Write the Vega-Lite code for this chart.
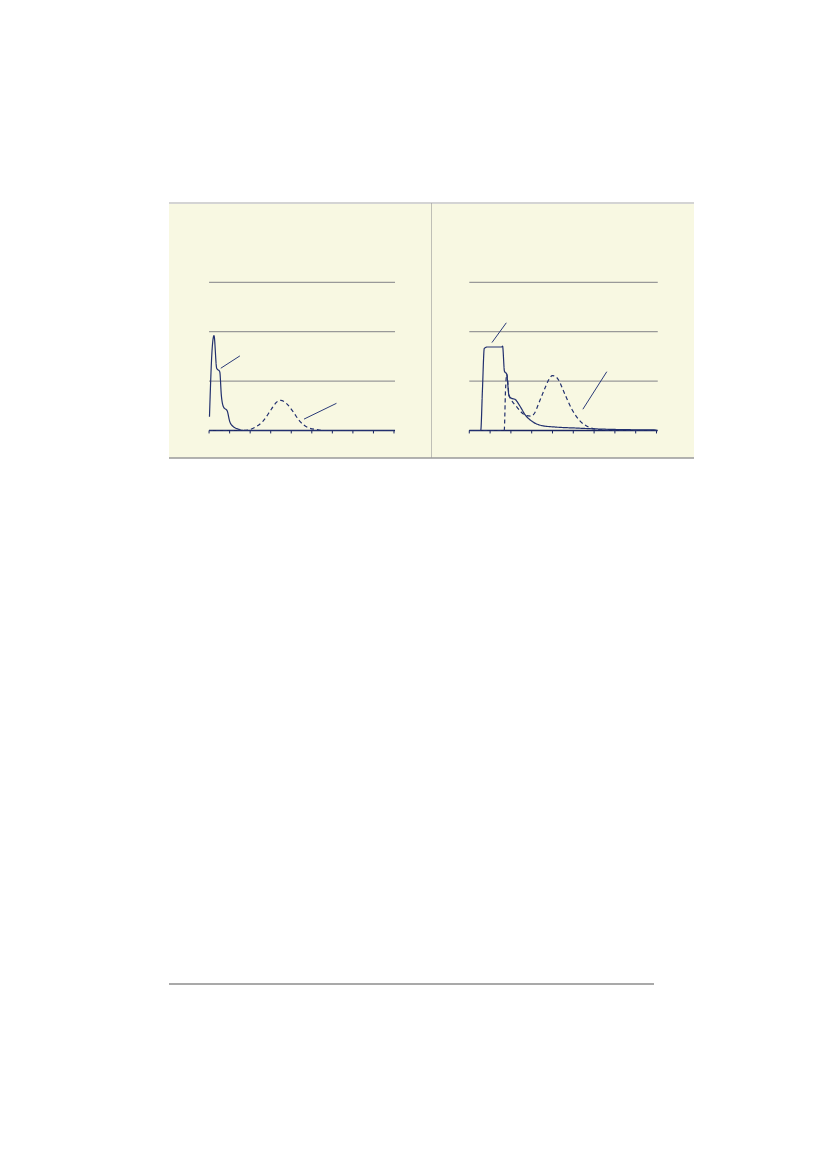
{
  "$schema": "https://vega.github.io/schema/vega-lite/v6.json",
  "background": "#ffffff",
  "padding": {"left": 168, "top": 202, "right": 0, "bottom": 0},
  "bounds": "flush",
  "datasets": {
    "curves": [
      {"panel": "A", "series": "solid", "u": 0.02, "v": 0.28},
      {"panel": "A", "series": "solid", "u": 0.15, "v": 1.65},
      {"panel": "A", "series": "solid", "u": 0.24, "v": 1.92},
      {"panel": "A", "series": "solid", "u": 0.37, "v": 1.26},
      {"panel": "A", "series": "solid", "u": 0.52, "v": 1.19},
      {"panel": "A", "series": "solid", "u": 0.6, "v": 0.7},
      {"panel": "A", "series": "solid", "u": 0.71, "v": 0.47},
      {"panel": "A", "series": "solid", "u": 0.88, "v": 0.4},
      {"panel": "A", "series": "solid", "u": 1.0, "v": 0.19},
      {"panel": "A", "series": "solid", "u": 1.17, "v": 0.08},
      {"panel": "A", "series": "solid", "u": 1.41, "v": 0.03},
      {"panel": "A", "series": "solid", "u": 1.65, "v": 0.0},
      {"panel": "A", "series": "solid", "u": 9.0, "v": 0.0},
      {"panel": "A", "series": "dashed", "u": 0.0, "v": 0.0},
      {"panel": "A", "series": "dashed", "u": 1.6, "v": 0.0},
      {"panel": "A", "series": "dashed", "u": 1.9, "v": 0.01},
      {"panel": "A", "series": "dashed", "u": 2.22, "v": 0.06},
      {"panel": "A", "series": "dashed", "u": 2.63, "v": 0.19},
      {"panel": "A", "series": "dashed", "u": 3.03, "v": 0.43},
      {"panel": "A", "series": "dashed", "u": 3.28, "v": 0.57},
      {"panel": "A", "series": "dashed", "u": 3.49, "v": 0.61},
      {"panel": "A", "series": "dashed", "u": 3.76, "v": 0.55},
      {"panel": "A", "series": "dashed", "u": 4.09, "v": 0.38},
      {"panel": "A", "series": "dashed", "u": 4.41, "v": 0.19},
      {"panel": "A", "series": "dashed", "u": 4.81, "v": 0.06},
      {"panel": "A", "series": "dashed", "u": 5.22, "v": 0.02},
      {"panel": "A", "series": "dashed", "u": 5.6, "v": 0.0},
      {"panel": "A", "series": "dashed", "u": 9.0, "v": 0.0},
      {"panel": "B", "series": "solid", "u": 0.0, "v": 0.0},
      {"panel": "B", "series": "solid", "u": 0.55, "v": 0.0},
      {"panel": "B", "series": "solid", "u": 0.63, "v": 0.8},
      {"panel": "B", "series": "solid", "u": 0.72, "v": 1.66},
      {"panel": "B", "series": "solid", "u": 0.85, "v": 1.69},
      {"panel": "B", "series": "solid", "u": 1.56, "v": 1.69},
      {"panel": "B", "series": "solid", "u": 1.6, "v": 1.71},
      {"panel": "B", "series": "solid", "u": 1.69, "v": 1.2},
      {"panel": "B", "series": "solid", "u": 1.8, "v": 1.14},
      {"panel": "B", "series": "solid", "u": 1.91, "v": 0.7},
      {"panel": "B", "series": "solid", "u": 2.04, "v": 0.65},
      {"panel": "B", "series": "solid", "u": 2.2, "v": 0.63},
      {"panel": "B", "series": "solid", "u": 2.44, "v": 0.49},
      {"panel": "B", "series": "solid", "u": 2.68, "v": 0.32},
      {"panel": "B", "series": "solid", "u": 3.0, "v": 0.19},
      {"panel": "B", "series": "solid", "u": 3.48, "v": 0.1},
      {"panel": "B", "series": "solid", "u": 4.12, "v": 0.07},
      {"panel": "B", "series": "solid", "u": 5.09, "v": 0.05},
      {"panel": "B", "series": "solid", "u": 6.2, "v": 0.03},
      {"panel": "B", "series": "solid", "u": 9.0, "v": 0.01},
      {"panel": "B", "series": "dashed", "u": 0.0, "v": 0.0},
      {"panel": "B", "series": "dashed", "u": 1.68, "v": 0.0},
      {"panel": "B", "series": "dashed", "u": 1.74, "v": 0.8},
      {"panel": "B", "series": "dashed", "u": 1.8, "v": 1.14},
      {"panel": "B", "series": "dashed", "u": 1.91, "v": 0.72},
      {"panel": "B", "series": "dashed", "u": 2.05, "v": 0.6},
      {"panel": "B", "series": "dashed", "u": 2.3, "v": 0.47},
      {"panel": "B", "series": "dashed", "u": 2.5, "v": 0.37},
      {"panel": "B", "series": "dashed", "u": 2.75, "v": 0.3},
      {"panel": "B", "series": "dashed", "u": 2.95, "v": 0.29},
      {"panel": "B", "series": "dashed", "u": 3.15, "v": 0.36},
      {"panel": "B", "series": "dashed", "u": 3.32, "v": 0.53},
      {"panel": "B", "series": "dashed", "u": 3.64, "v": 0.86},
      {"panel": "B", "series": "dashed", "u": 3.85, "v": 1.05},
      {"panel": "B", "series": "dashed", "u": 3.99, "v": 1.11},
      {"panel": "B", "series": "dashed", "u": 4.12, "v": 1.1},
      {"panel": "B", "series": "dashed", "u": 4.28, "v": 1.03},
      {"panel": "B", "series": "dashed", "u": 4.6, "v": 0.73},
      {"panel": "B", "series": "dashed", "u": 4.93, "v": 0.43},
      {"panel": "B", "series": "dashed", "u": 5.33, "v": 0.19},
      {"panel": "B", "series": "dashed", "u": 5.73, "v": 0.07},
      {"panel": "B", "series": "dashed", "u": 6.2, "v": 0.02},
      {"panel": "B", "series": "dashed", "u": 7.0, "v": 0.0},
      {"panel": "B", "series": "dashed", "u": 9.0, "v": 0.0}
    ],
    "pointers": [
      {"panel": "A", "u": 0.57, "v": 1.26, "u2": 1.5, "v2": 1.51},
      {"panel": "A", "u": 4.62, "v": 0.23, "u2": 6.2, "v2": 0.55},
      {"panel": "B", "u": 1.09, "v": 1.78, "u2": 1.78, "v2": 2.18},
      {"panel": "B", "u": 5.46, "v": 0.43, "u2": 6.61, "v2": 1.19}
    ],
    "grid": [{"g": 1}, {"g": 2}, {"g": 3}],
    "ticks": [
      {"t": 0}, {"t": 1}, {"t": 2}, {"t": 3}, {"t": 4},
      {"t": 5}, {"t": 6}, {"t": 7}, {"t": 8}, {"t": 9}
    ]
  },
  "spacing": 781,
  "vconcat": [
    {
      "spacing": 0,
      "bounds": "flush",
      "hconcat": [
        {
          "width": 263,
          "height": 255,
          "view": {"fill": "#f8f8e2", "stroke": null},
          "layer": [
            {
              "data": {"name": "grid"},
              "mark": {"type": "rule", "color": "#999999", "strokeWidth": 1.2},
              "encoding": {
                "x": {"datum": 0, "type": "quantitative", "scale": {"domain": [-1.95, 10.85], "nice": false, "zero": false}, "axis": null},
                "x2": {"datum": 9.05},
                "y": {"field": "g", "type": "quantitative", "scale": {"domain": [-0.557, 4.605], "nice": false, "zero": false}, "axis": null}
              }
            },
            {
              "data": {"name": "ticks"},
              "mark": {"type": "rule", "color": "#1a2560", "strokeWidth": 1},
              "encoding": {
                "x": {"field": "t", "type": "quantitative"},
                "y": {"datum": 0, "type": "quantitative"},
                "y2": {"datum": -0.06}
              }
            },
            {
              "data": {"values": [{"a": 0, "b": 9.05, "y": 0}]},
              "mark": {"type": "rule", "color": "#1a2560", "strokeWidth": 1.3},
              "encoding": {
                "x": {"field": "a", "type": "quantitative"},
                "x2": {"field": "b"},
                "y": {"field": "y", "type": "quantitative"}
              }
            },
            {
              "data": {"name": "curves"},
              "transform": [{"filter": "datum.panel === 'A'"}],
              "mark": {"type": "line", "color": "#22306e", "strokeWidth": 1.2, "interpolate": "monotone"},
              "encoding": {
                "x": {"field": "u", "type": "quantitative"},
                "y": {"field": "v", "type": "quantitative"},
                "detail": {"field": "series"},
                "strokeDash": {
                  "field": "series", "type": "nominal", "legend": null,
                  "scale": {"domain": ["solid", "dashed"], "range": [[1, 0], [4, 3]]}
                }
              }
            },
            {
              "data": {"name": "pointers"},
              "transform": [{"filter": "datum.panel === 'A'"}],
              "mark": {"type": "rule", "color": "#2a3a78", "strokeWidth": 1},
              "encoding": {
                "x": {"field": "u", "type": "quantitative"},
                "x2": {"field": "u2"},
                "y": {"field": "v", "type": "quantitative"},
                "y2": {"field": "v2"}
              }
            },
            {
              "data": {"values": [{"a": -1.95, "b": 10.85, "top": 4.605, "bot": -0.557}]},
              "layer": [
                {
                  "mark": {"type": "rule", "color": "#d4d4d4", "strokeWidth": 2},
                  "encoding": {
                    "x": {"field": "a", "type": "quantitative"},
                    "x2": {"field": "b"},
                    "y": {"field": "top", "type": "quantitative"}
                  }
                },
                {
                  "mark": {"type": "rule", "color": "#9a9a9a", "strokeWidth": 1.5},
                  "encoding": {
                    "x": {"field": "a", "type": "quantitative"},
                    "x2": {"field": "b"},
                    "y": {"field": "bot", "type": "quantitative"}
                  }
                },
                {
                  "mark": {"type": "rule", "color": "#9a9a9a", "strokeWidth": 1.2},
                  "encoding": {
                    "x": {"field": "b", "type": "quantitative"},
                    "y": {"field": "top", "type": "quantitative"},
                    "y2": {"field": "bot"}
                  }
                }
              ]
            }
          ]
        },
        {
          "width": 262,
          "height": 255,
          "view": {"fill": "#f8f8e2", "stroke": null},
          "layer": [
            {
              "data": {"name": "grid"},
              "mark": {"type": "rule", "color": "#999999", "strokeWidth": 1.2},
              "encoding": {
                "x": {"datum": 0, "type": "quantitative", "scale": {"domain": [-1.793, 10.803], "nice": false, "zero": false}, "axis": null},
                "x2": {"datum": 9.06},
                "y": {"field": "g", "type": "quantitative", "scale": {"domain": [-0.557, 4.605], "nice": false, "zero": false}, "axis": null}
              }
            },
            {
              "data": {"name": "ticks"},
              "mark": {"type": "rule", "color": "#1a2560", "strokeWidth": 1},
              "encoding": {
                "x": {"field": "t", "type": "quantitative"},
                "y": {"datum": 0, "type": "quantitative"},
                "y2": {"datum": -0.06}
              }
            },
            {
              "data": {"values": [{"a": 0, "b": 9.06, "y": 0}]},
              "mark": {"type": "rule", "color": "#1a2560", "strokeWidth": 1.3},
              "encoding": {
                "x": {"field": "a", "type": "quantitative"},
                "x2": {"field": "b"},
                "y": {"field": "y", "type": "quantitative"}
              }
            },
            {
              "data": {"name": "curves"},
              "transform": [{"filter": "datum.panel === 'B'"}],
              "mark": {"type": "line", "color": "#22306e", "strokeWidth": 1.2, "interpolate": "monotone"},
              "encoding": {
                "x": {"field": "u", "type": "quantitative"},
                "y": {"field": "v", "type": "quantitative"},
                "detail": {"field": "series"},
                "strokeDash": {
                  "field": "series", "type": "nominal", "legend": null,
                  "scale": {"domain": ["solid", "dashed"], "range": [[1, 0], [4, 3]]}
                }
              }
            },
            {
              "data": {"name": "pointers"},
              "transform": [{"filter": "datum.panel === 'B'"}],
              "mark": {"type": "rule", "color": "#2a3a78", "strokeWidth": 1},
              "encoding": {
                "x": {"field": "u", "type": "quantitative"},
                "x2": {"field": "u2"},
                "y": {"field": "v", "type": "quantitative"},
                "y2": {"field": "v2"}
              }
            },
            {
              "data": {"values": [{"a": -1.793, "b": 10.803, "top": 4.605, "bot": -0.557}]},
              "layer": [
                {
                  "mark": {"type": "rule", "color": "#d4d4d4", "strokeWidth": 2},
                  "encoding": {
                    "x": {"field": "a", "type": "quantitative"},
                    "x2": {"field": "b"},
                    "y": {"field": "top", "type": "quantitative"}
                  }
                },
                {
                  "mark": {"type": "rule", "color": "#9a9a9a", "strokeWidth": 1.5},
                  "encoding": {
                    "x": {"field": "a", "type": "quantitative"},
                    "x2": {"field": "b"},
                    "y": {"field": "bot", "type": "quantitative"}
                  }
                }
              ]
            }
          ]
        }
      ]
    },
    {
      "width": 485,
      "height": 10,
      "view": {"stroke": null},
      "data": {"values": [{"a": 0, "b": 1, "y": 1}]},
      "mark": {"type": "rule", "color": "#555555", "strokeWidth": 1.2},
      "encoding": {
        "x": {"field": "a", "type": "quantitative", "axis": null, "scale": {"domain": [0, 1], "nice": false, "zero": false}},
        "x2": {"field": "b"},
        "y": {"field": "y", "type": "quantitative", "axis": null, "scale": {"domain": [0, 1], "nice": false, "zero": false}}
      }
    }
  ]
}
